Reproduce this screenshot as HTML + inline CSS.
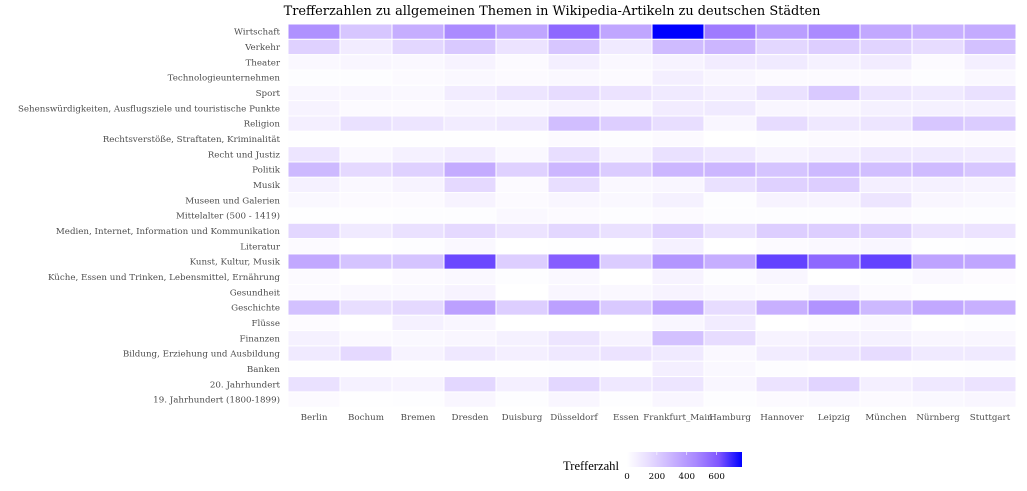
<!DOCTYPE html>
<html><head><meta charset="utf-8"><style>
body{margin:0;background:#fff;width:1027px;height:491px;overflow:hidden}
svg{display:block}
text{font-family:"DejaVu Serif","Liberation Serif",serif}
</style></head><body>
<svg id="chart" width="1027" height="491">
<defs><linearGradient id="lg" x1="0" x2="1" y1="0" y2="0">
<stop offset="0" stop-color="#ffffff"/><stop offset="0.2" stop-color="#e6dbff"/><stop offset="0.4" stop-color="#c8b1ff"/><stop offset="0.6" stop-color="#a988ff"/><stop offset="0.8" stop-color="#7f55ff"/><stop offset="1" stop-color="#0000ff"/></linearGradient></defs>
<text x="552" y="15" text-anchor="middle" font-size="12.9" fill="#000">Trefferzahlen zu allgemeinen Themen in Wikipedia-Artikeln zu deutschen Städten</text>
<g id="cells"></g><g id="ylab"></g><g id="xlab"></g>
<g>
<text x="563" y="470" font-size="12.6" fill="#000" style="font-family:'Liberation Serif',serif">Trefferzahl</text>
<rect x="627" y="452" width="115" height="15" fill="url(#lg)"/>
<g id="legticks"></g>
</g>
</svg>
<script>
const cities=["Berlin","Bochum","Bremen","Dresden","Duisburg","Düsseldorf","Essen","Frankfurt_Main","Hamburg","Hannover","Leipzig","München","Nürnberg","Stuttgart"];
const topics=["Wirtschaft","Verkehr","Theater","Technologieunternehmen","Sport","Sehenswürdigkeiten, Ausflugsziele und touristische Punkte","Religion","Rechtsverstöße, Straftaten, Kriminalität","Recht und Justiz","Politik","Musik","Museen und Galerien","Mittelalter (500 - 1419)","Medien, Internet, Information und Kommunikation","Literatur","Kunst, Kultur, Musik","Küche, Essen und Trinken, Lebensmittel, Ernährung","Gesundheit","Geschichte","Flüsse","Finanzen","Bildung, Erziehung und Ausbildung","Banken","20. Jahrhundert","19. Jahrhundert (1800-1899)"];
const values=[
[430,230,320,450,350,560,350,770,500,380,450,340,310,330],
[190,80,170,220,120,230,90,270,290,170,200,180,150,250],
[30,40,30,50,20,70,30,50,80,90,60,80,20,70],
[10,10,20,30,20,30,20,70,40,20,20,20,10,30],
[40,40,30,80,110,150,120,90,70,130,220,110,90,130],
[50,20,20,40,30,50,30,80,90,40,40,60,60,60],
[70,130,110,80,100,260,200,140,40,150,100,110,230,210],
[5,5,5,5,5,20,10,20,0,10,20,15,15,20],
[110,30,60,80,30,140,50,130,100,50,70,100,90,80],
[280,160,190,330,190,290,210,290,290,240,280,260,270,230],
[60,30,50,160,20,140,30,40,130,190,200,70,60,50],
[30,20,20,50,20,40,30,60,10,50,50,110,40,30],
[5,5,10,10,30,20,10,20,10,10,10,20,10,10],
[170,90,130,160,120,170,130,190,130,200,200,190,120,120],
[20,0,10,30,0,5,5,60,0,20,30,40,5,10],
[340,240,240,640,200,590,210,410,320,650,560,650,360,350],
[20,0,20,30,10,30,0,50,10,40,0,10,30,15],
[20,30,30,50,0,40,30,50,30,20,60,20,5,5],
[250,140,160,370,200,370,220,360,150,310,420,280,340,310],
[15,0,60,40,0,0,0,40,80,0,15,30,0,10],
[60,25,30,40,60,110,50,250,150,50,70,60,40,40],
[90,160,50,100,70,100,120,90,30,80,110,150,90,90],
[5,5,5,5,5,10,5,70,30,10,0,0,5,10],
[130,60,50,170,70,170,100,110,40,120,180,70,100,120],
[20,5,10,40,10,40,10,40,10,20,30,20,30,40]];
const legendTicks=[0,200,400,600];
const vmax=770;
const x0=288,cw=52,y0=24,rh=15.33;
const xs=i=>x0+i*cw, ys=j=>y0+j*rh;
const stops=[[0,[255,255,255]],[0.2,[230,219,255]],[0.4,[200,177,255]],[0.6,[169,136,255]],[0.8,[127,85,255]],[1,[0,0,255]]];
function col(v){const t=Math.max(0,Math.min(1,v/vmax));for(let k=1;k<stops.length;k++){if(t<=stops[k][0]){const a=stops[k-1],b=stops[k],f=(t-a[0])/(b[0]-a[0]);return 'rgb('+a[1].map((c,i)=>Math.round(c+(b[1][i]-c)*f)).join(',')+')';}}return 'rgb(0,0,255)';}
const NS="http://www.w3.org/2000/svg";
const cells=document.getElementById('cells'),yl=document.getElementById('ylab'),xl=document.getElementById('xlab'),lt=document.getElementById('legticks');
topics.forEach((tp,j)=>{
 cities.forEach((c,i)=>{
  const r=document.createElementNS(NS,'rect');
  r.setAttribute('x',xs(i));r.setAttribute('y',ys(j));r.setAttribute('width',cw);r.setAttribute('height',rh);
  r.setAttribute('fill',col(values[j][i]));r.setAttribute('stroke','#fff');r.setAttribute('stroke-width','1');
  
  
  cells.appendChild(r);
 });
 const t=document.createElementNS(NS,'text');
 t.setAttribute('x',280);t.setAttribute('y',ys(j)+rh/2+3);t.setAttribute('text-anchor','end');t.setAttribute('font-size','8.7');t.setAttribute('fill','#4d4d4d');
 t.textContent=tp;
 
 
 yl.appendChild(t);
});
cities.forEach((c,i)=>{
 const t=document.createElementNS(NS,'text');
 t.setAttribute('x',xs(i)+cw/2);t.setAttribute('y',420);t.setAttribute('text-anchor','middle');t.setAttribute('font-size','8.7');t.setAttribute('fill','#4d4d4d');
 t.textContent=c;
 
 
 xl.appendChild(t);
});
legendTicks.forEach(v=>{
 const x=627+v/vmax*115;
 const l=document.createElementNS(NS,'line');
 l.setAttribute('x1',x);l.setAttribute('x2',x);l.setAttribute('y1',452);l.setAttribute('y2',455);l.setAttribute('stroke','#fff');l.setAttribute('stroke-width','0.6');
 
 
 lt.appendChild(l);
 const t=document.createElementNS(NS,'text');
 t.setAttribute('x',x);t.setAttribute('y',479);t.setAttribute('text-anchor','middle');t.setAttribute('font-size','8.7');t.setAttribute('fill','#000');
 t.textContent=v;
 
 
 lt.appendChild(t);
});
</script>
</body></html>
